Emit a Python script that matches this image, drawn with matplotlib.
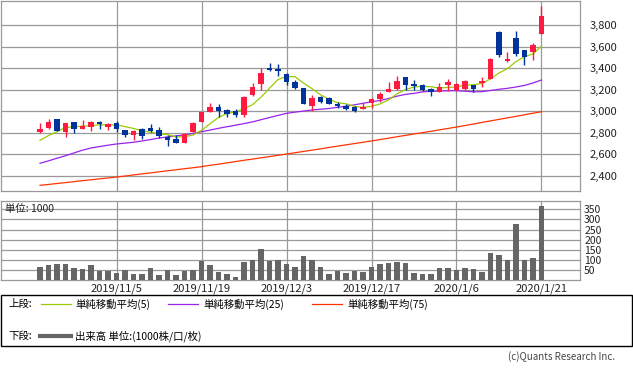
import matplotlib
matplotlib.use("Agg")
import matplotlib.pyplot as plt
from matplotlib.patches import Rectangle
from matplotlib.lines import Line2D

plt.rcParams['font.family'] = ['Noto Sans CJK JP', 'DejaVu Sans']

# ---------------- data ----------------
opens = [2811, 2845, 2929, 2808, 2898, 2839, 2857, 2898, 2852, 2890,
         2827, 2783, 2836, 2845, 2827, 2762, 2743, 2709, 2811, 2901,
         2994, 3040, 3012, 3003, 2966, 3149, 3253, 3404, 3389, 3346,
         3274, 3219, 3049, 3132, 3123, 3068, 3049, 3037, 3019, 3074,
         3117, 3183, 3207, 3318, 3253, 3241, 3207, 3182, 3244, 3198,
         3207, 3244, 3260, 3300, 3735, 3466, 3679, 3568, 3550, 3717]
highs = [2892, 2929, 2929, 2892, 2898, 2920, 2910, 2910, 2895, 2910,
         2827, 2827, 2845, 2882, 2855, 2780, 2780, 2799, 2898, 2994,
         3077, 3068, 3021, 3021, 3142, 3262, 3399, 3448, 3440, 3358,
         3290, 3219, 3151, 3142, 3132, 3086, 3068, 3049, 3077, 3123,
         3176, 3272, 3327, 3318, 3290, 3250, 3216, 3263, 3300, 3263,
         3290, 3247, 3321, 3491, 3744, 3550, 3744, 3568, 3633, 3976]
lows = [2802, 2836, 2815, 2765, 2796, 2839, 2820, 2839, 2830, 2810,
        2765, 2737, 2746, 2808, 2755, 2681, 2709, 2709, 2808, 2901,
        2994, 2947, 2947, 2947, 2950, 3142, 3197, 3370, 3327, 3244,
        3204, 3065, 3003, 3077, 3068, 3030, 3009, 2996, 3019, 3028,
        3083, 3176, 3198, 3198, 3200, 3186, 3142, 3176, 3189, 3189,
        3198, 3182, 3226, 3300, 3503, 3457, 3513, 3429, 3476, 3717]
closes = [2836, 2898, 2820, 2892, 2839, 2867, 2901, 2880, 2885, 2839,
          2783, 2818, 2774, 2817, 2774, 2737, 2709, 2790, 2889, 2994,
          3040, 3003, 2973, 2966, 3136, 3225, 3356, 3386, 3371, 3274,
          3216, 3065, 3126, 3086, 3068, 3049, 3019, 3003, 3043, 3114,
          3163, 3202, 3281, 3244, 3235, 3198, 3179, 3222, 3272, 3253,
          3281, 3204, 3281, 3485, 3522, 3485, 3534, 3503, 3615, 3883]
volumes = [68, 73, 78, 78, 63, 58, 73, 45, 45, 38,
           51, 33, 33, 63, 28, 51, 28, 45, 53, 97,
           73, 43, 33, 18, 92, 102, 152, 97, 102, 78,
           68, 122, 102, 68, 33, 48, 38, 48, 43, 68,
           78, 87, 92, 83, 38, 33, 33, 63, 63, 53,
           63, 58, 43, 137, 127, 102, 280, 102, 112, 365]
ma5 = [2731, 2775, 2811, 2850, 2857, 2863, 2864, 2876, 2874, 2874,
       2858, 2841, 2820, 2806, 2793, 2784, 2762, 2765, 2780, 2824,
       2884, 2943, 2980, 2995, 3024, 3061, 3131, 3214, 3295, 3322,
       3321, 3262, 3210, 3153, 3112, 3079, 3070, 3045, 3036, 3046,
       3068, 3105, 3161, 3201, 3225, 3232, 3227, 3216, 3221, 3225,
       3241, 3246, 3258, 3301, 3355, 3395, 3461, 3506, 3532, 3604]
ma25 = [2518, 2541, 2565, 2588, 2614, 2640, 2660, 2673, 2686, 2697,
        2705, 2713, 2725, 2738, 2752, 2763, 2772, 2781, 2795, 2811,
        2826, 2842, 2857, 2871, 2886, 2902, 2922, 2942, 2962, 2981,
        2992, 3002, 3012, 3019, 3026, 3037, 3047, 3060, 3074, 3088,
        3100, 3118, 3140, 3157, 3166, 3180, 3185, 3188, 3190, 3191,
        3186, 3180, 3182, 3193, 3204, 3213, 3225, 3240, 3262, 3290]
ma75 = [2314, 2322, 2331, 2339, 2348, 2357, 2365, 2374, 2382, 2391,
        2400, 2410, 2420, 2429, 2439, 2449, 2458, 2468, 2477, 2487,
        2499, 2510, 2522, 2534, 2546, 2557, 2569, 2580, 2592, 2604,
        2616, 2628, 2640, 2652, 2665, 2677, 2689, 2701, 2713, 2725,
        2738, 2751, 2764, 2777, 2790, 2802, 2815, 2828, 2841, 2854,
        2868, 2882, 2897, 2911, 2925, 2939, 2953, 2968, 2982, 2996]
date_ticks = [9, 19, 29, 39, 49, 59]
date_labels = ["2019/11/5", "2019/11/19", "2019/12/3", "2019/12/17", "2020/1/6", "2020/1/21"]
price_ticks = [2400, 2600, 2800, 3000, 3200, 3400, 3600, 3800]
vol_ticks = [50, 100, 150, 200, 250, 300, 350]

# ---------------- layout ----------------
W, H = 633, 374
fig = plt.figure(figsize=(W / 100, H / 100), dpi=100)


def box(x0, y0, x1, y1):
    return [x0 / W, 1 - y1 / H, (x1 - x0) / W, (y1 - y0) / H]


GRID = '#999999'
UP = '#ff1a40'
DOWN = '#003399'
xl = (-4.59, 63.53)
idx = list(range(len(closes)))

# price panel
ax = fig.add_axes(box(1, 1, 580, 190.5))
ax.set_xlim(*xl)
ax.set_ylim(2266, 4022)
for p in price_ticks:
    ax.axhline(p, color=GRID, lw=0.9, zorder=0)
for t in date_ticks:
    ax.axvline(t, color=GRID, lw=0.9, zorder=0)

ax.plot(idx, ma75, color='#ff3300', lw=0.9, zorder=2)
ax.plot(idx, ma25, color='#9922ee', lw=0.9, zorder=2)
ax.plot(idx, ma5, color='#99cc00', lw=0.9, zorder=2)

colors = [UP if c >= o else DOWN for o, c in zip(opens, closes)]
ax.vlines(idx, lows, highs, colors=colors, lw=1.0, zorder=3)
bottoms = [min(o, c) for o, c in zip(opens, closes)]
heights = [max(abs(c - o), 12) for o, c in zip(opens, closes)]
ax.bar(idx, heights, bottom=bottoms, width=0.68, color=colors, lw=0, zorder=4)

ax.set_xticks([])
ax.set_yticks(price_ticks)
ax.set_yticklabels([f"{p:,}" for p in price_ticks], fontsize=8, color='#222222')
ax.yaxis.tick_right()
ax.tick_params(axis='y', length=0, pad=7)
for s in ax.spines.values():
    s.set_color(GRID)
    s.set_linewidth(0.9)

# volume panel
av = fig.add_axes(box(1, 201, 580, 280.3))
av.set_xlim(*xl)
av.set_ylim(0, 391)
for v in vol_ticks:
    av.axhline(v, color=GRID, lw=0.9, zorder=0)
for t in date_ticks:
    av.axvline(t, color=GRID, lw=0.9, zorder=0)
av.bar(idx, volumes, width=0.68, color='#666666', lw=0, zorder=3)
av.set_yticks(vol_ticks)
av.set_yticklabels([str(v) for v in vol_ticks], fontsize=7.5, color='#222222')
av.yaxis.tick_right()
av.tick_params(axis='y', length=0, pad=3)
av.set_xticks(date_ticks)
av.set_xticklabels(date_labels, fontsize=8, color='#222222')
av.tick_params(axis='x', length=0, pad=2)
for s in av.spines.values():
    s.set_color(GRID)
    s.set_linewidth(0.9)
av.text(4 / 579, 1 - 8.3 / 79.3, "単位: 1000", transform=av.transAxes,
        fontsize=7.5, va='center', ha='left', color='#222222', zorder=5)

# legend box
fig.patches.append(Rectangle((0.8 / W, 1 - 346 / H), 631 / W, 50.7 / H,
                             transform=fig.transFigure, fill=False,
                             edgecolor='black', lw=1.0))


def fy(y):
    return 1 - y / H


def fx(x):
    return x / W


fig.text(fx(8), fy(304), "上段:", fontsize=7.5, va='center', ha='left')
fig.text(fx(8), fy(336), "下段:", fontsize=7.5, va='center', ha='left')
legend_items = [(40.5, 75, '#99cc00', "単純移動平均(5)"),
                (168, 203, '#9922ee', "単純移動平均(25)"),
                (312, 347, '#ff3300', "単純移動平均(75)")]
for x0, tx, col, lab in legend_items:
    fig.add_artist(Line2D([fx(x0), fx(x0 + 30)], [fy(304), fy(304)],
                          transform=fig.transFigure, color=col, lw=0.9))
    fig.text(fx(tx), fy(304), lab, fontsize=7.5, va='center', ha='left')
fig.add_artist(Line2D([fx(40), fx(71)], [fy(336), fy(336)],
                      transform=fig.transFigure, color='#666666', lw=3))
fig.text(fx(75), fy(336), "出来高 単位:(1000株/口/枚)", fontsize=7.5, va='center', ha='left')

fig.text(fx(615), fy(357), "(c)Quants Research Inc.", fontsize=7, va='center',
         ha='right', color='#444444')

fig.savefig("out.png", dpi=100)
